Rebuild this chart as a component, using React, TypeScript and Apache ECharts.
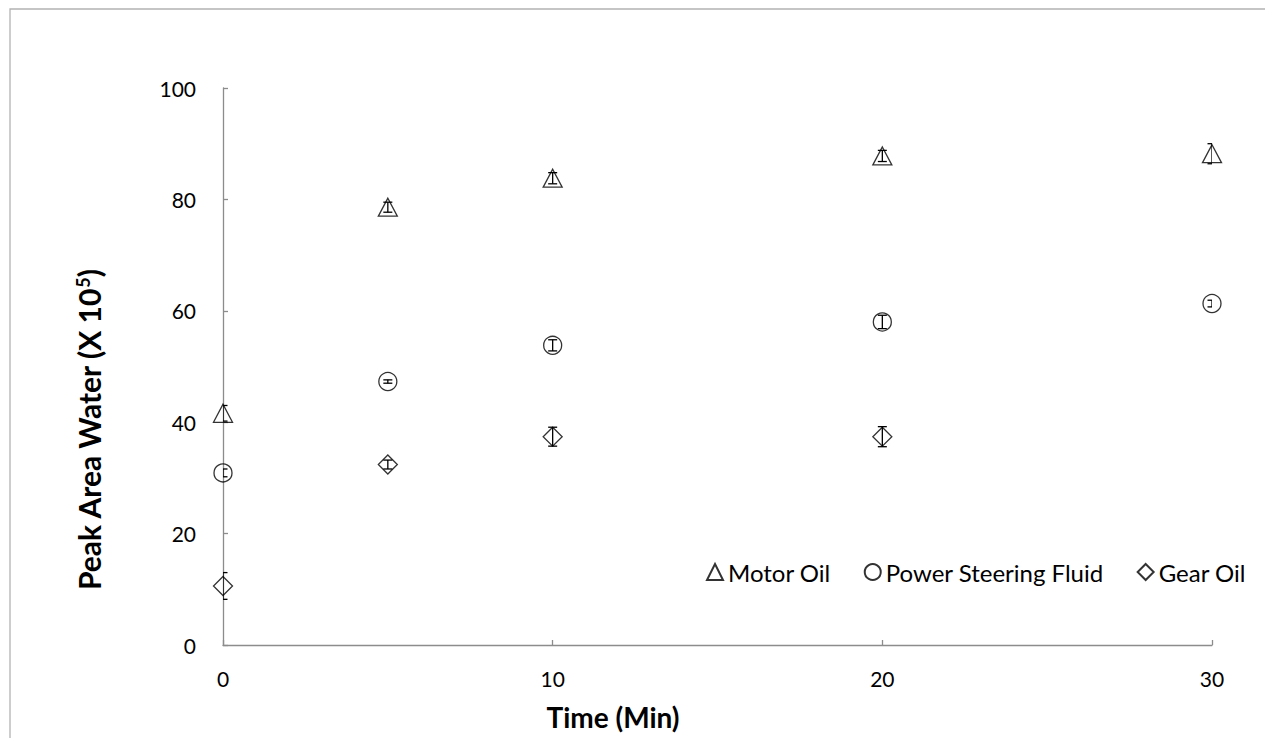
import React, { useEffect, useRef } from "react";
import * as echarts from "echarts";

// Sampling times (min)
const times = [0, 5, 10, 20, 30];
const xTicks = [0, 10, 20, 30];
const yTicks = [0, 20, 40, 60, 80, 100];

// Peak area of water (x 10^5) and standard deviations
const motorOil = [41.6, 78.6, 83.8, 87.8, 88.2];
const motorOilErr = [1.4, 0.9, 1.0, 1.0, 1.8];
const steeringFluid = [30.9, 47.3, 53.8, 58.0, 61.3];
const steeringFluidErr = [0.7, 0.3, 1.0, 1.2, 0.6];
const gearOil = [10.6, 32.4, 37.4, 37.4];
const gearOilErr = [2.4, 0.8, 1.7, 1.8];

const seriesNames = ["Motor Oil", "Power Steering Fluid", "Gear Oil"];

const FONT = "Lato, 'Open Sans', sans-serif";

function points(vals: number[]) {
  return vals.map((v, i) => [times[i], v]);
}
function errPoints(vals: number[], errs: number[]) {
  return vals.map((v, i) => [times[i], v, errs[i]]);
}

function errorBarSeries(data: number[][]) {
  return {
    type: "custom",
    clip: true,
    silent: true,
    z: 1,
    data,
    renderItem: (_p: any, api: any) => {
      const x = api.value(0);
      const y = api.value(1);
      const e = api.value(2);
      const top = api.coord([x, y + e]);
      const bot = api.coord([x, y - e]);
      const hw = 4.5;
      const st = { stroke: "#000", lineWidth: 1.3 };
      return {
        type: "group",
        children: [
          { type: "line", shape: { x1: top[0], y1: top[1], x2: bot[0], y2: bot[1] }, style: st },
          { type: "line", shape: { x1: top[0] - hw, y1: top[1], x2: top[0] + hw, y2: top[1] }, style: st },
          { type: "line", shape: { x1: bot[0] - hw, y1: bot[1], x2: bot[0] + hw, y2: bot[1] }, style: st },
        ],
      };
    },
  };
}

const markerStyle = { color: "rgba(255,255,255,0)", borderColor: "#000", borderWidth: 1.3 };

export default function App() {
  const ref = useRef<HTMLDivElement>(null);
  useEffect(() => {
    if (!ref.current) return;
    const chart = echarts.init(ref.current, null, { renderer: "svg" });
    chart.setOption({
      animation: false,
      backgroundColor: "#fff",
      textStyle: { fontFamily: FONT },
      grid: { left: 223, top: 88, right: 53, bottom: 93 },
      xAxis: {
        type: "value",
        min: xTicks[0],
        max: xTicks[xTicks.length - 1],
        interval: 10,
        axisLine: { lineStyle: { color: "#8c8c8c", width: 1.3 } },
        axisTick: { inside: true, length: 5, lineStyle: { color: "#8c8c8c", width: 1.3 } },
        splitLine: { show: false },
        axisLabel: { color: "#000", fontSize: 21, fontFamily: FONT, margin: 23 },
      },
      yAxis: {
        type: "value",
        min: yTicks[0],
        max: yTicks[yTicks.length - 1],
        interval: 20,
        axisLine: { show: true, lineStyle: { color: "#8c8c8c", width: 1.3 } },
        axisTick: { show: true, inside: true, length: 5, lineStyle: { color: "#8c8c8c", width: 1.3 } },
        splitLine: { show: false },
        axisLabel: { color: "#000", fontSize: 21, fontFamily: FONT, margin: 27 },
      },
      legend: {
        data: seriesNames,
        left: 706,
        top: 560,
        padding: 0,
        itemGap: 33,
        itemWidth: 16,
        itemHeight: 16,
        textStyle: { color: "#000", fontSize: 24, fontFamily: FONT },
      },
      graphic: [
        {
          type: "rect",
          shape: { x: 10, y: 9, width: 1400, height: 900 },
          style: { fill: "none", stroke: "#b3b3b3", lineWidth: 1.3 },
          silent: true,
        },
        {
          type: "text",
          x: 613,
          y: 717,
          style: {
            text: "Time (Min)",
            font: `bold 28px ${FONT}`,
            fill: "#000",
            align: "center",
            verticalAlign: "middle",
          },
        },
        {
          type: "text",
          x: 89,
          y: 430,
          rotation: Math.PI / 2,
          style: {
            text: "{b|Peak Area Water (X 10}{s|5}{b|)}",
            align: "center",
            verticalAlign: "middle",
            fill: "#000",
            rich: {
              b: { font: `bold 30px ${FONT}`, fill: "#000", verticalAlign: "bottom" },
              s: { font: `bold 18px ${FONT}`, fill: "#000", verticalAlign: "top", padding: [0, 0, 12, 0] },
            },
          },
        },
      ],
      series: [
        errorBarSeries(errPoints(motorOil, motorOilErr)),
        errorBarSeries(errPoints(steeringFluid, steeringFluidErr)),
        errorBarSeries(errPoints(gearOil, gearOilErr)),
        {
          name: seriesNames[0],
          type: "scatter",
          symbol: "triangle",
          symbolSize: [19, 18],
          itemStyle: markerStyle,
          data: points(motorOil),
          z: 2,
        },
        {
          name: seriesNames[1],
          type: "scatter",
          symbol: "circle",
          symbolSize: 18,
          itemStyle: markerStyle,
          data: points(steeringFluid),
          z: 2,
        },
        {
          name: seriesNames[2],
          type: "scatter",
          symbol: "diamond",
          symbolSize: [19, 19],
          itemStyle: markerStyle,
          data: points(gearOil),
          z: 2,
        },
      ],
    });
    return () => chart.dispose();
  }, []);
  return (
    <div
      ref={ref}
      style={{ position: "fixed", left: 0, top: 0, width: 1265, height: 738 }}
    />
  );
}
